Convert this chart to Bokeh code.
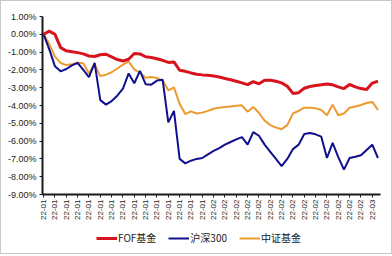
from bokeh.plotting import figure
from bokeh.layouts import column
from bokeh.models import (FixedTicker, Legend, LegendItem, PrintfTickFormatter,
                          Range1d, ColumnDataSource)
from bokeh.embed import file_html
from bokeh.resources import INLINE

# ---- data (values in %) ----
x_idx = list(range(60))
tick_labels = ["22-01", "22-01", "22-01", "22-01", "22-01", "22-01", "22-01", "22-01",
               "22-01", "22-01", "22-01", "22-01", "22-01", "22-01", "22-01",
               "22-02", "22-02", "22-02", "22-02", "22-02", "22-02", "22-02",
               "22-02", "22-02", "22-02", "22-02", "22-02", "22-02", "22-02",
               "22-03"]
fof = [0.00, 0.18, 0.00, -0.75, -0.93, -0.98, -1.03, -1.10, -1.22, -1.25,
       -1.15, -1.12, -1.27, -1.42, -1.50, -1.40, -1.08, -1.10, -1.26, -1.30,
       -1.37, -1.46, -1.58, -1.55, -2.02, -2.08, -2.17, -2.24, -2.28, -2.30,
       -2.34, -2.40, -2.48, -2.55, -2.64, -2.73, -2.83, -2.66, -2.78, -2.58,
       -2.58, -2.64, -2.73, -2.92, -3.32, -3.28, -3.03, -2.93, -2.88, -2.84,
       -2.79, -2.84, -2.95, -3.05, -2.82, -2.95, -3.05, -3.10, -2.74, -2.64]
hs300 = [0.00, -0.85, -1.80, -2.08, -1.95, -1.75, -1.60, -2.00, -2.40, -1.60,
         -3.70, -3.95, -3.75, -3.45, -3.05, -2.20, -2.75, -2.05, -2.80, -2.83,
         -2.60, -2.55, -4.95, -4.30, -7.00, -7.25, -7.10, -7.00, -6.95, -6.75,
         -6.55, -6.40, -6.20, -6.05, -5.90, -5.78, -6.20, -5.50, -5.70, -6.20,
         -6.60, -7.00, -7.40, -7.00, -6.45, -6.20, -5.60, -5.55, -5.62, -5.75,
         -6.95, -6.10, -6.90, -7.60, -6.95, -6.88, -6.80, -6.50, -6.20, -6.95]
zz = [0.00, -0.55, -1.25, -1.61, -1.73, -1.68, -1.60, -1.62, -2.20, -1.68,
      -2.35, -2.27, -2.13, -1.92, -1.70, -1.53, -1.97, -2.16, -2.44, -2.40,
      -2.45, -2.60, -3.15, -2.98, -3.90, -4.48, -4.33, -4.45, -4.40, -4.30,
      -4.18, -4.12, -4.09, -4.05, -4.02, -3.99, -4.35, -4.08, -4.42, -4.85,
      -5.10, -5.24, -5.33, -5.10, -4.45, -4.30, -4.12, -4.13, -4.16, -4.25,
      -4.55, -3.95, -4.55, -4.45, -4.13, -4.06, -3.97, -3.86, -3.80, -4.25]
y_ticks = [1, 0, -1, -2, -3, -4, -5, -6, -7, -8, -9]
series_names = ["FOF基金", "沪深300", "中证基金"]

src = ColumnDataSource(dict(x=x_idx, fof=fof, hs300=hs300, zz=zz))
styles = [("fof", "#D7141E", 3), ("hs300", "#10108E", 2), ("zz", "#EB9A2E", 2)]

p = figure(width=390, height=222, output_backend="svg", toolbar_location=None,
           x_range=Range1d(-0.2, 59.45), y_range=Range1d(-9, 1),
           min_border_left=41, min_border_right=11, min_border_top=15,
           min_border_bottom=29)
p.background_fill_color = "white"
p.border_fill_color = "white"
p.outline_line_color = None
p.xgrid.grid_line_color = None
p.ygrid.grid_line_color = None

for col, color, w in reversed(styles):
    p.line("x", col, source=src, line_color=color, line_width=w)

# y axis
p.yaxis.ticker = FixedTicker(ticks=y_ticks)
p.yaxis.formatter = PrintfTickFormatter(format="%.2f%%")
p.yaxis.axis_line_color = "#1a1a1a"
p.yaxis.axis_line_width = 2
p.yaxis.major_tick_out = 3
p.yaxis.major_tick_in = 0
p.yaxis.minor_tick_line_color = None
p.yaxis.major_tick_line_color = "#1a1a1a"
p.yaxis.major_label_text_font = "Liberation Sans"
p.yaxis.major_label_text_font_size = "9px"
p.yaxis.major_label_text_color = "#222222"
p.yaxis.major_label_standoff = 3

# x axis
xt = list(range(0, 60, 2))
p.xaxis.ticker = FixedTicker(ticks=xt)
p.xaxis.major_label_overrides = {t: lab for t, lab in zip(xt, tick_labels)}
p.xaxis.major_label_orientation = 1.5708
p.xaxis.axis_line_color = "#1a1a1a"
p.xaxis.axis_line_width = 2
p.xaxis.major_tick_out = 3
p.xaxis.major_tick_in = 0
p.xaxis.minor_tick_line_color = None
p.xaxis.major_tick_line_color = "#1a1a1a"
p.xaxis.major_label_text_font = "Liberation Sans"
p.xaxis.major_label_text_font_size = "8px"
p.xaxis.major_label_text_color = "#222222"
p.xaxis.major_label_standoff = 2

# legend strip (separate figure so the legend is not clipped)
q = figure(width=390, height=30, output_backend="svg", toolbar_location=None,
           x_range=Range1d(1000, 1001), y_range=Range1d(1000, 1001),
           min_border=0)
q.axis.visible = False
q.grid.visible = False
q.outline_line_color = None
q.background_fill_color = "white"
q.border_fill_color = "white"
items = []
for (col, color, w), name in zip(styles, series_names):
    r = q.line("x", col, source=src, line_color=color, line_width=w)
    items.append(LegendItem(label=name, renderers=[r]))

legend = Legend(items=items, orientation="horizontal", location=(54, 8))
legend.label_text_font = "Noto Sans CJK SC"
legend.label_text_font_size = "10px"
legend.label_text_color = "#222222"
legend.glyph_width = 21
legend.glyph_height = 10
legend.label_standoff = 1
legend.spacing = 12
legend.padding = 0
legend.margin = 0
legend.border_line_color = None
legend.background_fill_alpha = 0
q.add_layout(legend, "center")

layout = column(p, q, spacing=0)
layout.styles = {"border": "1px solid #c8c8c8"}
open("out.html", "w").write(file_html(layout, INLINE))
